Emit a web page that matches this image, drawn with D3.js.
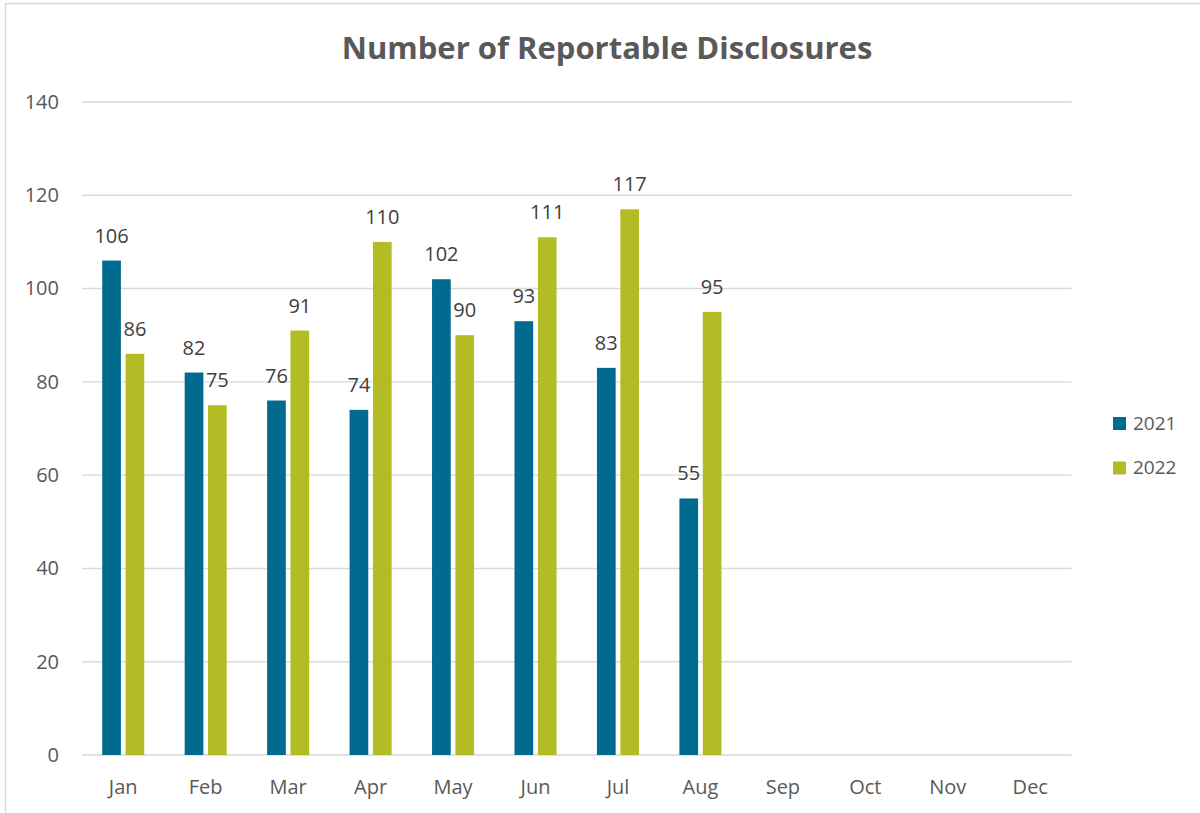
<!DOCTYPE html>
<html>
<head>
<meta charset="utf-8">
<script src="https://cdn.jsdelivr.net/npm/d3@7"></script>
<style>
  html, body { margin: 0; padding: 0; background: #fff; }
  svg { display: block; font-family: "Open Sans", "Liberation Sans", sans-serif; }
</style>
</head>
<body>
<svg id="chart" width="1200" height="813"></svg>
<script>
// Monthly counts of reportable disclosures, two years side by side
const months = ["Jan", "Feb", "Mar", "Apr", "May", "Jun", "Jul", "Aug", "Sep", "Oct", "Nov", "Dec"];
const seriesNames = ["2021", "2022"];
const values2021 = [106, 82, 76, 74, 102, 93, 83, 55, null, null, null, null];
const values2022 = [86, 75, 91, 110, 90, 111, 117, 95, null, null, null, null];
const yTicks = [0, 20, 40, 60, 80, 100, 120, 140];
const colors = ["#006A8F", "#B3BC24"];

const seriesValues = [values2021, values2022];
const rows = months.map((m, i) => ({
  month: m,
  vals: seriesNames.map((s, k) => ({ series: s, value: seriesValues[k][i], k }))
}));

const svg = d3.select("#chart");
const textColor = "#595959";
const gridColor = "#D9D9D9";

// frame of the chart area
svg.append("rect")
  .attr("x", 5.5).attr("y", 3.5)
  .attr("width", 1210).attr("height", 830)
  .attr("fill", "none")
  .attr("stroke", "#D9D9D9")
  .attr("stroke-width", 1.5);

const plot = { left: 82, right: 1071.5, top: 102, bottom: 755 };

const x = d3.scaleBand().domain(months).range([plot.left, plot.right]).paddingInner(0).paddingOuter(0);
const step = x.step();
const xInner = d3.scaleBand().domain(seriesNames)
  .range([0.245 * step, 0.755 * step]).paddingInner(0.2).paddingOuter(0);
const y = d3.scaleLinear().domain([0, 140]).range([plot.bottom, plot.top]);

// title
svg.append("text")
  .attr("x", 607).attr("y", 59)
  .attr("text-anchor", "middle")
  .attr("font-size", 31)
  .attr("font-weight", 700)
  .attr("fill", textColor)
  .text("Number of Reportable Disclosures");

// horizontal gridlines
svg.append("g")
  .selectAll("line")
  .data(yTicks)
  .join("line")
  .attr("x1", plot.left).attr("x2", plot.right)
  .attr("y1", d => y(d)).attr("y2", d => y(d))
  .attr("stroke", gridColor)
  .attr("stroke-width", 1.4);

// y axis labels
const yAxis = d3.axisLeft(y).tickValues(yTicks).tickSize(0).tickPadding(0);
const gy = svg.append("g").attr("transform", `translate(59,0)`).call(yAxis);
gy.select(".domain").remove();
gy.selectAll("text")
  .attr("font-family", "'Open Sans', sans-serif")
  .attr("font-size", 20)
  .attr("fill", textColor);

// x axis labels
const xAxis = d3.axisBottom(x).tickSize(0).tickPadding(0);
const gx = svg.append("g").attr("transform", `translate(0,${plot.bottom})`).call(xAxis);
gx.select(".domain").remove();
gx.selectAll("text")
  .attr("font-family", "'Open Sans', sans-serif")
  .attr("font-size", 20)
  .attr("fill", textColor)
  .attr("dy", null)
  .attr("y", 39);

// bars
const groups = svg.append("g")
  .selectAll("g")
  .data(rows)
  .join("g")
  .attr("transform", d => `translate(${x(d.month)},0)`);

const present = d => d.vals.filter(v => v.value != null);

groups.selectAll("rect")
  .data(present)
  .join("rect")
  .attr("x", d => xInner(d.series))
  .attr("width", xInner.bandwidth())
  .attr("y", d => y(d.value))
  .attr("height", d => y(0) - y(d.value))
  .attr("fill", d => colors[d.k]);

// value labels above bars
groups.selectAll("text")
  .data(present)
  .join("text")
  .attr("x", d => xInner(d.series) + xInner.bandwidth() / 2)
  .attr("y", d => y(d.value) - 18)
  .attr("text-anchor", "middle")
  .attr("font-size", 20)
  .attr("fill", "#404040")
  .text(d => d.value);

// legend
const legend = svg.append("g")
  .selectAll("g")
  .data(seriesNames)
  .join("g")
  .attr("transform", (d, i) => `translate(1113,${417 + i * 44.5})`);
legend.append("rect")
  .attr("width", 13).attr("height", 13)
  .attr("fill", (d, i) => colors[i]);
legend.append("text")
  .attr("x", 20).attr("y", 12.5)
  .attr("font-size", 19)
  .attr("fill", textColor)
  .text(d => d);
</script>
</body>
</html>
